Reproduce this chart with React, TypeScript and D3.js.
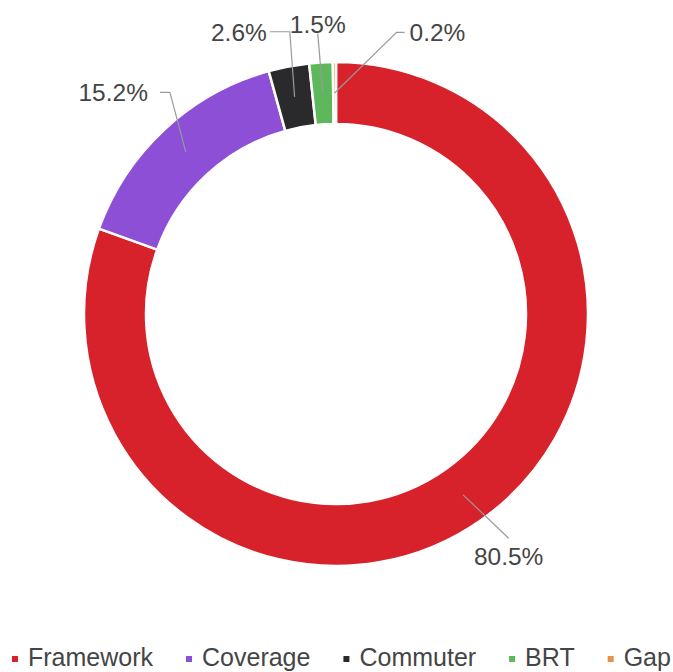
import React, { useEffect, useRef } from "react";
import * as d3 from "d3";

const categories = ["Framework", "Coverage", "Commuter", "BRT", "Gap"];
const shares = [80.5, 15.2, 2.6, 1.5, 0.2];
const valueLabels = ["80.5%", "15.2%", "2.6%", "1.5%", "0.2%"];
const colors = ["#d7212b", "#8c4fd6", "#2a2a2c", "#5cb85a", "#e8904a"];

const W = 673;
const H = 672;
const FONT = "'Liberation Sans', Arial, sans-serif";

// label layout: elbow radius, elbow angle shift (deg), horizontal segment, text gap, placement
const labelLayout = [
  { r: 283, shift: -2.5, h: 0, gap: 0, place: "below" },
  { r: 277, shift: 6, h: -10, gap: -12, place: "side" },
  { r: 286, shift: 1.5, h: -20, gap: -3, place: "side" },
  { r: 281, shift: -0.3, h: 0, gap: 0, place: "above" },
  { r: 288, shift: 12.5, h: 8, gap: 5, place: "side" },
];

export default function App() {
  const ref = useRef<SVGSVGElement | null>(null);

  useEffect(() => {
    const svg = d3.select(ref.current);
    svg.selectAll("*").remove();

    const cx = 336;
    const cy = 314;
    const outer = 252;
    const inner = 190;

    const data = categories.map((c, i) => ({ name: c, value: shares[i], i }));
    const pie = d3
      .pie<any>()
      .sort(null)
      .value((d: any) => d.value)
      .startAngle(0)
      .endAngle(2 * Math.PI);
    const arcs = pie(data);
    const arc = d3.arc<any>().innerRadius(inner).outerRadius(outer);

    const g = svg.append("g").attr("transform", `translate(${cx},${cy})`);
    g.selectAll("path.slice")
      .data(arcs)
      .enter()
      .append("path")
      .attr("class", "slice")
      .attr("d", arc as any)
      .attr("fill", (d: any) => colors[d.data.i])
      .attr("stroke", "#ffffff")
      .attr("stroke-width", 2.5)
      .attr("stroke-linejoin", "round");

    // labels
    const mid = (inner + outer) / 2;
    arcs.forEach((a: any, i: number) => {
      const L = labelLayout[i];
      const ma = (a.startAngle + a.endAngle) / 2;
      const sx = mid * Math.sin(ma);
      const sy = -mid * Math.cos(ma);
      const ea = ma + (L.shift * Math.PI) / 180;
      const ex = L.r * Math.sin(ea);
      const ey = -L.r * Math.cos(ea);
      const hx = ex + L.h;
      const pts: [number, number][] = [
        [sx, sy],
        [ex, ey],
      ];
      if (L.h !== 0) pts.push([hx, ey]);
      g.append("path")
        .attr("d", d3.line()(pts) as string)
        .attr("fill", "none")
        .attr("stroke", "#9a9a9a")
        .attr("stroke-width", 1.2);

      const t = g
        .append("text")
        .text(valueLabels[i])
        .attr("font-family", FONT)
        .attr("font-size", 24.5)
        .attr("fill", "#454545");
      if (L.place === "below") {
        t.attr("x", ex).attr("y", ey + 27).attr("text-anchor", "middle");
      } else if (L.place === "above") {
        t.attr("x", ex).attr("y", ey - 1).attr("text-anchor", "middle");
      } else {
        const anchor = L.h < 0 ? "end" : "start";
        t.attr("x", hx + L.gap)
          .attr("y", ey + 9)
          .attr("text-anchor", anchor);
      }
    });

    // legend
    const lg = svg.append("g").attr("transform", `translate(12, 659)`);
    let x = 0;
    categories.forEach((c, i) => {
      lg.append("rect")
        .attr("x", x)
        .attr("y", -3)
        .attr("width", 6)
        .attr("height", 6)
        .attr("fill", colors[i]);
      const t = lg
        .append("text")
        .attr("x", x + 16)
        .attr("y", 7)
        .attr("font-family", FONT)
        .attr("font-size", 25)
        .attr("fill", "#454545")
        .text(c);
      const w = (t.node() as SVGTextElement).getComputedTextLength();
      x += 16 + w + 33;
    });
  }, []);

  return (
    <svg
      ref={ref}
      width={W}
      height={H}
      style={{ position: "absolute", left: 0, top: 0, background: "#fff" }}
    />
  );
}
